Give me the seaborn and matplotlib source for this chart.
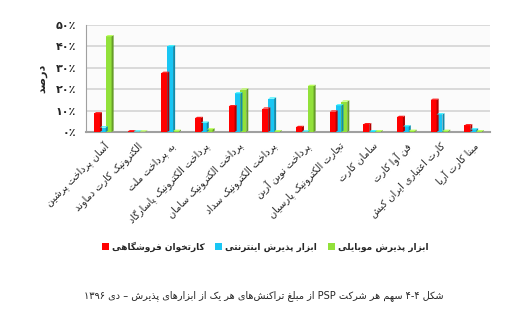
import matplotlib
matplotlib.use("Agg")
import matplotlib.pyplot as plt
from matplotlib.patches import Polygon, Patch
import seaborn as sns
import pandas as pd

# ---------------- data ----------------
companies = [
    "آسان پرداخت پرشین",
    "الکترونیک کارت دماوند",
    "به پرداخت ملت",
    "پرداخت الکترونیک پاسارگاد",
    "پرداخت الکترونیک سامان",
    "پرداخت الکترونیک سداد",
    "پرداخت نوین آرین",
    "تجارت الکترونیک پارسیان",
    "سامان کارت",
    "فن آوا کارت",
    "کارت اعتباری ایران کیش",
    "مبنا کارت آریا",
]
series_names = ["کارتخوان فروشگاهی", "ابزار پذیرش اینترنتی", "ابزار پذیرش موبایلی"]
pos_terminal = [8.7, 0.3, 27.6, 6.5, 12.0, 10.9, 2.3, 9.5, 3.6, 7.0, 15.0, 3.1]
internet = [2.1, 0.2, 40.0, 4.3, 18.0, 15.6, 0.2, 12.4, 0.3, 2.6, 8.2, 1.2]
mobile = [44.7, 0.2, 0.5, 1.2, 19.8, 0.3, 21.5, 14.2, 0.3, 0.5, 0.5, 0.3]
ytick_values = [0, 10, 20, 30, 40, 50]
ytick_labels = ["۰٪", "۱۰٪", "۲۰٪", "۳۰٪", "۴۰٪", "۵۰٪"]
ylabel_text = "درصد"
caption_text = "شکل ۴-۴ سهم هر شرکت PSP از مبلغ تراکنش‌های هر یک از ابزارهای پذیرش – دی ۱۳۹۶"
colors = ["#ff0000", "#19c6f4", "#92e13a"]

# ------------- minimal Persian shaping + RTL ordering -------------
def _f(i, f, n=None, m=None):
    return (chr(i), chr(f), chr(n) if n else None, chr(m) if m else None)

FORMS = {
    "\u0627": _f(0xFE8D, 0xFE8E), "\u0622": _f(0xFE81, 0xFE82),
    "\u0628": _f(0xFE8F, 0xFE90, 0xFE91, 0xFE92), "\u067E": _f(0xFB56, 0xFB57, 0xFB58, 0xFB59),
    "\u062A": _f(0xFE95, 0xFE96, 0xFE97, 0xFE98), "\u062B": _f(0xFE99, 0xFE9A, 0xFE9B, 0xFE9C),
    "\u062C": _f(0xFE9D, 0xFE9E, 0xFE9F, 0xFEA0), "\u0686": _f(0xFB7A, 0xFB7B, 0xFB7C, 0xFB7D),
    "\u062D": _f(0xFEA1, 0xFEA2, 0xFEA3, 0xFEA4), "\u062E": _f(0xFEA5, 0xFEA6, 0xFEA7, 0xFEA8),
    "\u062F": _f(0xFEA9, 0xFEAA), "\u0630": _f(0xFEAB, 0xFEAC),
    "\u0631": _f(0xFEAD, 0xFEAE), "\u0632": _f(0xFEAF, 0xFEB0), "\u0698": _f(0xFB8A, 0xFB8B),
    "\u0633": _f(0xFEB1, 0xFEB2, 0xFEB3, 0xFEB4), "\u0634": _f(0xFEB5, 0xFEB6, 0xFEB7, 0xFEB8),
    "\u0635": _f(0xFEB9, 0xFEBA, 0xFEBB, 0xFEBC), "\u0636": _f(0xFEBD, 0xFEBE, 0xFEBF, 0xFEC0),
    "\u0637": _f(0xFEC1, 0xFEC2, 0xFEC3, 0xFEC4), "\u0638": _f(0xFEC5, 0xFEC6, 0xFEC7, 0xFEC8),
    "\u0639": _f(0xFEC9, 0xFECA, 0xFECB, 0xFECC), "\u063A": _f(0xFECD, 0xFECE, 0xFECF, 0xFED0),
    "\u0641": _f(0xFED1, 0xFED2, 0xFED3, 0xFED4), "\u0642": _f(0xFED5, 0xFED6, 0xFED7, 0xFED8),
    "\u06A9": _f(0xFB8E, 0xFB8F, 0xFB90, 0xFB91), "\u06AF": _f(0xFB92, 0xFB93, 0xFB94, 0xFB95),
    "\u0644": _f(0xFEDD, 0xFEDE, 0xFEDF, 0xFEE0), "\u0645": _f(0xFEE1, 0xFEE2, 0xFEE3, 0xFEE4),
    "\u0646": _f(0xFEE5, 0xFEE6, 0xFEE7, 0xFEE8), "\u0647": _f(0xFEE9, 0xFEEA, 0xFEEB, 0xFEEC),
    "\u0648": _f(0xFEED, 0xFEEE), "\u06CC": _f(0xFBFC, 0xFBFD, 0xFBFE, 0xFBFF),
}
LAMALEF = {"\u0627": ("\uFEFB", "\uFEFC"), "\u0622": ("\uFEF5", "\uFEF6")}


def _dual(c):
    return c in FORMS and FORMS[c][2] is not None


def shape(word):
    out = []
    i = 0
    n = len(word)
    while i < n:
        c = word[i]
        if c not in FORMS:
            if c != "\u200c":
                out.append(c)
            i += 1
            continue
        prev = word[i - 1] if i > 0 else None
        jp = _dual(prev)
        if c == "\u0644" and i + 1 < n and word[i + 1] in LAMALEF:
            out.append(LAMALEF[word[i + 1]][1 if jp else 0])
            i += 2
            continue
        nxt = word[i + 1] if i + 1 < n else None
        jn = _dual(c) and nxt in FORMS
        f = FORMS[c]
        if jp and jn:
            out.append(f[3])
        elif jp:
            out.append(f[1])
        elif jn:
            out.append(f[2])
        else:
            out.append(f[0])
        i += 1
    return "".join(out)


def rtl(text):
    toks = text.split(" ")
    vis = []
    for t in reversed(toks):
        if any(ch in FORMS for ch in t):
            vis.append(shape(t)[::-1])
        else:
            vis.append(t)
    return " ".join(vis)


# ---------------- plot ----------------
sns.set_style("white")
plt.rcParams["font.family"] = ["DejaVu Sans"]

df = pd.DataFrame({
    "company": companies * 3,
    "tool": [series_names[0]] * 12 + [series_names[1]] * 12 + [series_names[2]] * 12,
    "value": pos_terminal + internet + mobile,
})

fig = plt.figure(figsize=(5.26, 3.16), dpi=100)
ax = fig.add_axes([86 / 526, 1 - 132 / 316, (490 - 86) / 526, (132 - 25) / 316])
ax.set_facecolor("#fbfbfb")

sns.barplot(data=df, x="company", y="value", hue="tool", hue_order=series_names,
            palette=colors, width=0.52, ax=ax, legend=False, saturation=1,
            errorbar=None, edgecolor="none", zorder=3)

# pseudo-3D side faces derived from each drawn bar
for p in list(ax.patches):
    x0, y0 = p.get_x(), p.get_y()
    w, h = p.get_width(), p.get_height()
    fc = p.get_facecolor()
    dark = tuple(c * 0.7 for c in fc[:3])
    dx = w * 0.35
    dy = 0.6
    side = Polygon([(x0 + w, y0), (x0 + w + dx, y0 + dy), (x0 + w + dx, y0 + h + dy), (x0 + w, y0 + h)],
                   closed=True, facecolor=dark, edgecolor="none", zorder=3)
    ax.add_patch(side)
    top = Polygon([(x0, y0 + h), (x0 + dx, y0 + h + dy), (x0 + w + dx, y0 + h + dy), (x0 + w, y0 + h)],
                  closed=True, facecolor=tuple(min(1, c * 1.1 + 0.1) for c in fc[:3]),
                  edgecolor="none", zorder=3)
    ax.add_patch(top)

ax.set_ylim(0, 50)
ax.set_xlim(-0.5, len(companies) - 0.5)
ax.set_yticks(ytick_values)
ax.set_yticklabels(ytick_labels, fontsize=8, fontweight="bold")
ax.yaxis.grid(True, color="#d4d4d4", linewidth=1.2, zorder=0)
ax.set_axisbelow(True)
for s in ["top", "right"]:
    ax.spines[s].set_visible(False)
ax.spines["left"].set_color("#a0a0a0")
ax.spines["bottom"].set_color("#a0a0a0")
ax.spines["bottom"].set_linewidth(1.5)
ax.tick_params(axis="y", length=3, color="#a0a0a0", pad=4)
ax.tick_params(axis="x", length=0, pad=6)

ax.set_xticks(range(len(companies)))
ax.set_xticklabels([rtl(c) for c in companies], rotation=45, ha="right",
                   rotation_mode="anchor", fontsize=7)
ax.set_xlabel("")
ax.set_ylabel("")
fig.text(42 / 526, 1 - 78 / 316, rtl(ylabel_text), rotation=90, ha="center", va="center",
         fontsize=8, fontweight="bold")

handles = [Patch(facecolor=c, edgecolor="none") for c in colors]
fig.legend(handles, [rtl(s) for s in series_names], loc="center", ncol=3,
           bbox_to_anchor=(265 / 526, 1 - 247 / 316), frameon=False,
           prop={"size": 6.5, "weight": "bold"}, handlelength=0.8, handleheight=0.8,
           handletextpad=0.3, columnspacing=1.2, borderpad=0.2)

fig.text(264 / 526, 1 - 296 / 316, rtl(caption_text), ha="center", va="center", fontsize=7)

fig.savefig("out.png", dpi=100)
